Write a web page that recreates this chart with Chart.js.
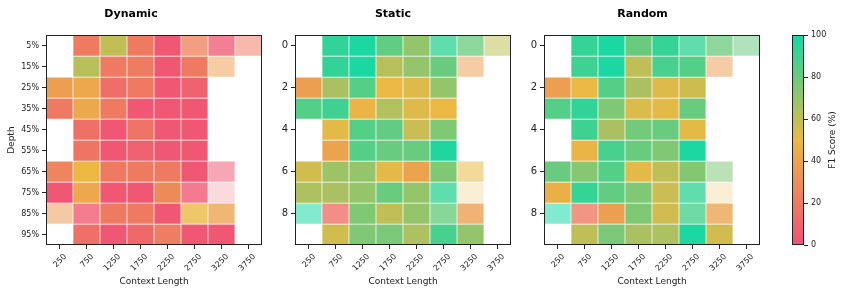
<!DOCTYPE html>
<html>
<head>
<meta charset="utf-8">
<script src="https://cdn.jsdelivr.net/npm/chart.js@4.4.0/dist/chart.umd.min.js"></script>
<style>
  body { margin: 0; background: #fff; width: 847px; height: 294px; position: relative; overflow: hidden; }
  canvas { position: absolute; top: 0; }
</style>
</head>
<body>
<canvas id="dynamic" width="275" height="294" style="left:0"></canvas>
<canvas id="static" width="250" height="294" style="left:275px"></canvas>
<canvas id="random" width="250" height="294" style="left:525px"></canvas>
<canvas id="cbar" width="72" height="294" style="left:775px"></canvas>
<script>
// ---- data ----
var contextLengths = ['250', '750', '1250', '1750', '2250', '2750', '3250', '3750'];
var depthLabels = ['5%', '15%', '25%', '35%', '45%', '55%', '65%', '75%', '85%', '95%'];
var indexTickRows = [0, 2, 4, 6, 8];
var scoreRange = [0, 100];

// F1 score (%) per depth row, per context length column (null = no sample)
var dynamicScores = [
  [null, 20, 60, 20, 3, 25, 3, 20],
  [null, 62, 20, 21, 3, 20, 38, null],
  [38, 42, 14, 20, 3, 8, null, null],
  [20, 42, 20, 3, 3, 3, null, null],
  [null, 15, 3, 17, 3, 3, null, null],
  [null, 18, 3, 8, 3, 3, null, null],
  [25, 50, 20, 20, 20, 3, 3, null],
  [3, 42, 3, 3, 28, 3, 8, null],
  [35, 5, 20, 20, 3, 50, 40, null],
  [null, 15, 3, 12, 22, 3, 3, null]
];
var staticScores = [
  [null, 93, 98, 82, 70, 92, 80, 60],
  [null, 93, 98, 62, 70, 80, 38, null],
  [38, 65, 85, 50, 53, 70, null, null],
  [85, 90, 48, 63, 53, 50, null, null],
  [null, 52, 85, 82, 58, 75, null, null],
  [null, 40, 85, 80, 80, 97, null, null],
  [56, 68, 70, 52, 40, 75, 50, null],
  [64, 65, 70, 80, 70, 92, 50, null],
  [100, 15, 75, 60, 70, 80, 38, null],
  [null, 56, 75, 76, 64, 88, 70, null]
];
var randomScores = [
  [null, 92, 98, 80, 92, 92, 80, 80],
  [null, 90, 98, 60, 88, 85, 38, null],
  [38, 50, 85, 65, 53, 57, null, null],
  [85, 93, 75, 54, 52, 80, null, null],
  [null, 90, 65, 78, 80, 52, null, null],
  [null, 48, 88, 80, 75, 98, null, null],
  [80, 73, 85, 52, 60, 74, 75, null],
  [46, 92, 82, 75, 58, 92, 50, null],
  [100, 20, 38, 75, 56, 88, 40, null],
  [null, 60, 76, 65, 64, 98, 56, null]
];
// sparse cells drawn faded: [row, col, opacity]
var sparseCells = [
  [0, 5, 0.75], [0, 6, 0.72], [0, 7, 0.5], [1, 6, 0.5], [6, 6, 0.5],
  [7, 5, 0.75], [7, 6, 0.22], [8, 0, 0.5], [8, 1, 0.75], [8, 5, 0.75], [8, 6, 0.75]
];

// ---- colours ----
var cmapStops = [[0, [239, 71, 111]], [0.5, [234, 180, 58]], [1, [6, 214, 160]]];

function cmap(v, alpha) {
  var t = Math.max(0, Math.min(1, (v - scoreRange[0]) / (scoreRange[1] - scoreRange[0])));
  var i = t <= 0.5 ? 0 : 1;
  var a = cmapStops[i], b = cmapStops[i + 1];
  var f = (t - a[0]) / (b[0] - a[0]);
  var c = a[1].map(function (x, k) { return Math.round(x + (b[1][k] - x) * f); });
  return 'rgba(' + c[0] + ',' + c[1] + ',' + c[2] + ',' + alpha + ')';
}

function cellAlpha(r, c) {
  for (var i = 0; i < sparseCells.length; i++) {
    if (sparseCells[i][0] === r && sparseCells[i][1] === c) return sparseCells[i][2];
  }
  return 0.95;
}

Chart.defaults.font.family = '"DejaVu Sans", sans-serif';
Chart.defaults.font.size = 8;
Chart.defaults.color = '#222';

var frame = {
  id: 'frame',
  afterDraw: function (chart) {
    var a = chart.chartArea, ctx = chart.ctx;
    ctx.save();
    ctx.strokeStyle = '#222';
    ctx.lineWidth = 1;
    ctx.strokeRect(Math.round(a.left) + 0.5, Math.round(a.top) + 0.5,
      Math.round(a.right - a.left) - 1, Math.round(a.bottom - a.top) - 1);
    ctx.restore();
  }
};

function heatmap(id, title, scores, yTickRows, yLabel, yWidth, padRight) {
  var datasets = scores.map(function (row, r) {
    return {
      data: row.map(function (v) { return v == null ? null : [r, r + 1]; }),
      backgroundColor: row.map(function (v, c) { return v == null ? 'rgba(0,0,0,0)' : cmap(v, cellAlpha(r, c)); }),
      borderColor: 'rgba(255,255,255,0.35)',
      borderWidth: 0.7,
      borderSkipped: false,
      barPercentage: 1,
      categoryPercentage: 1
    };
  });

  new Chart(document.getElementById(id), {
    type: 'bar',
    data: { labels: contextLengths, datasets: datasets },
    plugins: [frame],
    options: {
      responsive: false,
      animation: false,
      layout: { padding: { right: padRight, top: 0, bottom: 0 } },
      plugins: {
        legend: { display: false },
        tooltip: { enabled: false },
        title: {
          display: true, text: title, color: '#000',
          font: { size: 11, weight: 'bold' },
          padding: { top: 8, bottom: 14 }
        }
      },
      scales: {
        x: {
          stacked: true,
          grid: { display: true, drawOnChartArea: false, offset: false, tickLength: 4, tickColor: '#222' },
          border: { display: false },
          ticks: { minRotation: 45, maxRotation: 45, labelOffset: 6, padding: 3, autoSkip: false },
          title: { display: true, text: 'Context Length', font: { size: 9 }, padding: { top: 0, bottom: 7 } },
          afterFit: function (s) { s.height = 49; }
        },
        y: {
          min: 0, max: 10, reverse: true,
          grid: { display: true, drawOnChartArea: false, tickLength: 4, tickColor: '#222' },
          border: { display: false },
          afterBuildTicks: function (s) {
            s.ticks = yTickRows.map(function (r) { return { value: r + 0.5 }; });
          },
          ticks: {
            padding: 3,
            font: { size: yLabel ? 8 : 10 },
            callback: function (v) {
              var r = Math.floor(v);
              return yLabel ? depthLabels[r] : String(r);
            }
          },
          title: { display: !!yLabel, text: 'Depth', font: { size: 9 }, padding: { top: 6, bottom: 0 } },
          afterFit: function (s) { s.width = yWidth; }
        }
      }
    }
  });
}

heatmap('dynamic', 'Dynamic', dynamicScores, depthLabels.map(function (_, i) { return i; }), true, 46, 13);
heatmap('static', 'Static', staticScores, indexTickRows, false, 20, 14);
heatmap('random', 'Random', randomScores, indexTickRows, false, 19, 15);

// ---- colourbar ----
var cbarLabel = {
  id: 'cbarLabel',
  afterDraw: function (chart) {
    var a = chart.chartArea, ctx = chart.ctx;
    ctx.save();
    ctx.translate(chart.width - 14, (a.top + a.bottom) / 2);
    ctx.rotate(-Math.PI / 2);
    ctx.font = '9px "DejaVu Sans"';
    ctx.fillStyle = '#222';
    ctx.textAlign = 'center';
    ctx.textBaseline = 'middle';
    ctx.fillText('F1 Score (%)', 0, 0);
    ctx.restore();
  }
};

new Chart(document.getElementById('cbar'), {
  type: 'bar',
  data: {
    labels: [''],
    datasets: [{
      data: [scoreRange],
      barPercentage: 1,
      categoryPercentage: 1,
      backgroundColor: function (context) {
        var chart = context.chart, a = chart.chartArea;
        if (!a) return null;
        var g = chart.ctx.createLinearGradient(0, a.bottom, 0, a.top);
        for (var k = 0; k <= 20; k++) g.addColorStop(k / 20, cmap(scoreRange[0] + k * 5, 0.95));
        return g;
      }
    }]
  },
  plugins: [frame, cbarLabel],
  options: {
    responsive: false,
    animation: false,
    layout: { padding: { left: 17, top: 35, bottom: 49 } },
    plugins: { legend: { display: false }, tooltip: { enabled: false } },
    scales: {
      x: { display: false },
      y: {
        position: 'right', min: 0, max: 100,
        grid: { display: true, drawOnChartArea: false, tickLength: 4, tickColor: '#222' },
        border: { display: false },
        ticks: { stepSize: 20, padding: 3 },
        afterFit: function (s) { s.width = 43; }
      }
    }
  }
});
</script>
</body>
</html>
